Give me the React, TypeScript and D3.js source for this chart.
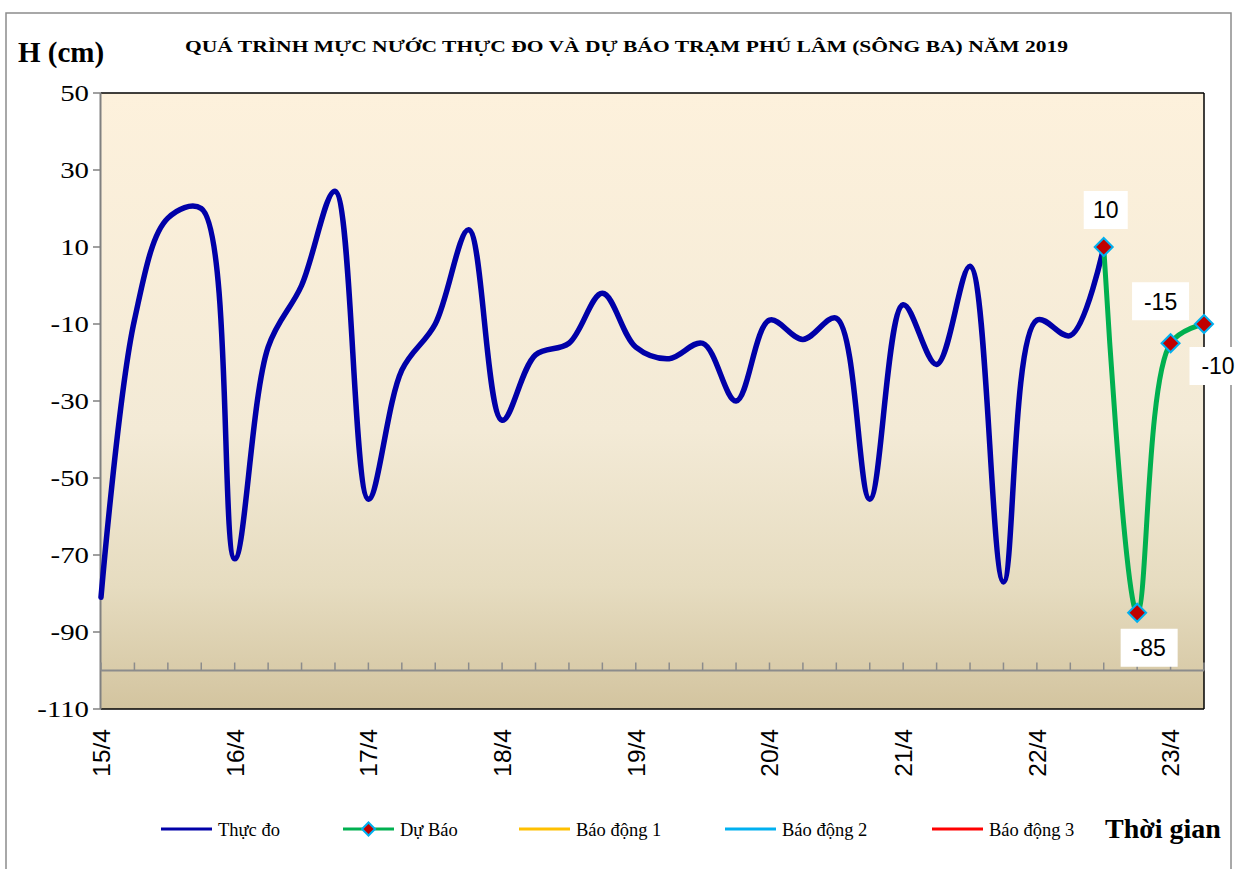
import React from "react";
import * as d3 from "d3";

// nhãn ngày trên trục hoành, 4 số liệu mỗi ngày (6 giờ một lần)
const dayLabels = ["15/4", "16/4", "17/4", "18/4", "19/4", "20/4", "21/4", "22/4", "23/4"];
const stepsPerDay = 4;

// mực nước thực đo (cm)
const observed = [
  -81, -9, 17.5, 20, -71, -16, 0, 24.5, -55.5, -22, -10, 14.5, -35, -18, -15, -2,
  -16, -19, -15, -30, -9, -14, -8.5, -55.5, -5, -20.5, 5, -77, -9, -13, 10,
];
// mực nước dự báo (cm), bắt đầu từ điểm thực đo cuối
const forecast = [10, -85, -15, -10];

const yTicks = [50, 30, 10, -10, -30, -50, -70, -90, -110];
const xAxisLevel = -100;

const legendNames = ["Thực đo", "Dự Báo", "Báo động 1", "Báo động 2", "Báo động 3"];
const legendColors = ["#0000A8", "#00B050", "#FFC000", "#00B0F0", "#FF0000"];

const W = 1237;
const H = 869;
const plot = { left: 101, right: 1204, top: 93, bottom: 709 };

// vị trí nhãn số liệu so với điểm dự báo
const labelOffsets = [
  [2, -37],
  [12, 35],
  [-10, -42],
  [14, 42],
];

const serif = "'Liberation Serif', 'Times New Roman', serif";
const sans = "'Liberation Sans', Arial, sans-serif";

function diamond(cx: number, cy: number, r: number) {
  return `M${cx},${cy - r}L${cx + r},${cy}L${cx},${cy + r}L${cx - r},${cy}Z`;
}

export default function App() {
  const n = observed.length + forecast.length - 1;
  const fStart = observed.length - 1;

  const x = d3.scaleLinear().domain([0, n - 1]).range([plot.left, plot.right]);
  const y = d3.scaleLinear().domain([-110, 50]).range([plot.bottom, plot.top]);

  const line = d3
    .line<number>()
    .x((d, i) => x(i))
    .y((d) => y(d))
    .curve(d3.curveCatmullRom.alpha(0.5));
  const fLine = d3
    .line<number>()
    .x((d, i) => x(i + fStart))
    .y((d) => y(d))
    .curve(d3.curveCatmullRom.alpha(0.5));

  const cats = d3.range(n);
  const axisY = y(xAxisLevel);

  const legendX = [161, 343, 519, 725, 932];
  const legendY = 829;

  return (
    <div style={{ position: "fixed", left: 0, top: 0 }}>
      <svg width={W} height={H} style={{ display: "block", background: "#fff" }}>
        <defs>
          <linearGradient id="bg" x1="0" y1="0" x2="0" y2="1">
            <stop offset="0" stopColor="#FDF1DC" />
            <stop offset="0.55" stopColor="#F3EAD6" />
            <stop offset="0.8" stopColor="#E6DCC0" />
            <stop offset="1" stopColor="#D3C49F" />
          </linearGradient>
          <clipPath id="clipAll">
            <rect x={0} y={0} width={W} height={H} />
          </clipPath>
        </defs>

        <rect x={6} y={13} width={1225} height={880} fill="none" stroke="#8c8c8c" strokeWidth={1.5} />

        {/* vùng đồ thị */}
        <rect
          x={plot.left}
          y={plot.top}
          width={plot.right - plot.left}
          height={plot.bottom - plot.top}
          fill="url(#bg)"
        />
        <line x1={plot.left} x2={plot.right} y1={plot.top} y2={plot.top} stroke="#000" strokeWidth={1.5} />
        <line x1={plot.right} x2={plot.right} y1={plot.top} y2={plot.bottom} stroke="#000" strokeWidth={1.5} />
        <line x1={plot.left} x2={plot.right} y1={plot.bottom} y2={plot.bottom} stroke="#000" strokeWidth={1.5} />

        {/* trục tung */}
        <line x1={plot.left - 0.5} x2={plot.left - 0.5} y1={plot.top} y2={plot.bottom} stroke="#808080" strokeWidth={2} />
        {yTicks.map((t) => (
          <g key={t}>
            <line x1={plot.left - 8} x2={plot.left} y1={y(t)} y2={y(t)} stroke="#808080" strokeWidth={1.5} />
            <text
              transform={`translate(89,${y(t)}) scale(1.2,1)`}
              dy="0.35em"
              textAnchor="end"
              fontFamily={serif}
              fontSize={24}
              fill="#000"
            >
              {t}
            </text>
          </g>
        ))}

        {/* trục hoành tại -100 */}
        <line x1={plot.left} x2={plot.right} y1={axisY} y2={axisY} stroke="#8c8c8c" strokeWidth={2} />
        {cats.map((i) => (
          <line key={i} x1={x(i)} x2={x(i)} y1={axisY} y2={axisY - 8} stroke="#8c8c8c" strokeWidth={1.5} />
        ))}
        {dayLabels.map((d, k) => (
          <text
            key={d}
            transform={`translate(${x(k * stepsPerDay)},${729}) rotate(-90)`}
            dy="0.36em"
            textAnchor="end"
            fontFamily={sans}
            fontSize={24.5}
            fill="#000"
          >
            {d}
          </text>
        ))}

        {/* đường thực đo */}
        <path d={line(observed) || ""} fill="none" stroke="#0000A8" strokeWidth={5.5} strokeLinejoin="round" strokeLinecap="round" />

        {/* đường dự báo */}
        <path d={fLine(forecast) || ""} fill="none" stroke="#00B050" strokeWidth={5} strokeLinejoin="round" />
        {forecast.map((v, i) => (
          <path
            key={i}
            d={diamond(x(i + fStart), y(v), 9)}
            fill="#C00000"
            stroke="#00B0F0"
            strokeWidth={2}
          />
        ))}

        {/* nhãn số liệu */}
        <g clipPath="url(#clipAll)">
          {forecast.map((v, i) => {
            const cx = x(i + fStart) + labelOffsets[i][0];
            const cy = y(v) + labelOffsets[i][1];
            const label = String(v);
            const bw = label.length * 13 + 18;
            return (
              <g key={i}>
                <rect x={cx - bw / 2} y={cy - 19} width={bw} height={38} fill="#fff" />
                <text
                  x={cx}
                  y={cy}
                  dy="0.36em"
                  textAnchor="middle"
                  fontFamily={sans}
                  fontSize={23}
                  fill="#000"
                >
                  {label}
                </text>
              </g>
            );
          })}
        </g>

        {/* tiêu đề */}
        <text x={18} y={62} fontFamily={serif} fontWeight="bold" fontSize={29} fill="#000">
          H (cm)
        </text>
        <text
          x={185}
          y={52}
          fontFamily={serif}
          fontWeight="bold"
          fontSize={17.5}
          textLength={883}
          lengthAdjust="spacingAndGlyphs"
          fill="#000"
        >
          QUÁ TRÌNH MỰC NƯỚC THỰC ĐO VÀ DỰ BÁO TRẠM PHÚ LÂM (SÔNG BA) NĂM 2019
        </text>

        {/* chú thích */}
        {legendNames.map((name, i) => (
          <g key={name}>
            <line
              x1={legendX[i]}
              x2={legendX[i] + 51}
              y1={legendY}
              y2={legendY}
              stroke={legendColors[i]}
              strokeWidth={3}
            />
            {i === 1 && (
              <path d={diamond(legendX[i] + 25.5, legendY, 6.5)} fill="#C00000" stroke="#00B0F0" strokeWidth={2} />
            )}
            <text x={legendX[i] + 57} y={legendY + 7} fontFamily={serif} fontSize={18.5} fill="#000">
              {name}
            </text>
          </g>
        ))}
        <text x={1105} y={838} fontFamily={serif} fontWeight="bold" fontSize={28} fill="#000">
          Thời gian
        </text>
      </svg>
    </div>
  );
}
